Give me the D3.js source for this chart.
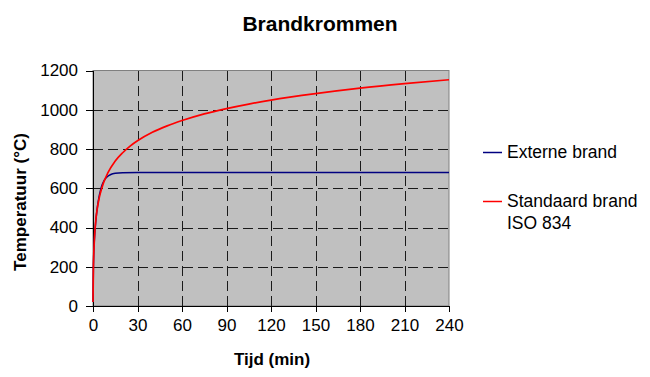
<!DOCTYPE html>
<html>
<head>
<meta charset="utf-8">
<script src="https://cdn.jsdelivr.net/npm/d3@7"></script>
<style>
  html, body { margin: 0; padding: 0; background: #fff; }
  svg { display: block; }
  text { font-family: Arial, "Liberation Sans", sans-serif; fill: #000; }
</style>
</head>
<body>
<svg id="chart" width="650" height="377"></svg>
<script>
// ---- data ----
const title = "Brandkrommen";
const xLabel = "Tijd (min)";
const yLabel = "Temperatuur (°C)";
const xTicks = [0, 30, 60, 90, 120, 150, 180, 210, 240];
const yTicks = [0, 200, 400, 600, 800, 1000, 1200];

const seriesNames = ["Externe brand", "Standaard brand ISO 834"];

// time (min) and temperature (°C) for "Externe brand"
const externTime = [0, 0.25, 0.5, 1, 2, 3, 4, 5, 6, 7, 8, 10, 12, 15, 20, 30, 60, 120, 180, 240];
const externTemp = [20, 182, 263, 346, 441, 506, 554, 588, 614, 632, 645, 661, 670, 676, 679, 680, 680, 680, 680, 680];

// time (min) and temperature (°C) for "Standaard brand ISO 834"
const isoTime = [0, 0.25, 0.5, 1, 2, 3, 4, 5, 7, 10, 15, 20, 25, 30, 40, 50, 60, 75, 90, 105, 120, 150, 180, 210, 240];
const isoTemp = [20, 185, 261, 349, 445, 502, 544, 576, 626, 678, 739, 781, 815, 842, 885, 918, 945, 979, 1006, 1029, 1049, 1082, 1110, 1133, 1153];

// ---- drawing ----
const svg = d3.select("#chart");
const pLeft = 93, pRight = 449, pTop = 70.5, pBottom = 306;

const x = d3.scaleLinear().domain([0, 240]).range([pLeft, pRight]);
const y = d3.scaleLinear().domain([0, 1200]).range([pBottom, pTop]);

// plot background
svg.append("rect")
  .attr("x", pLeft).attr("y", pTop)
  .attr("width", pRight - pLeft).attr("height", pBottom - pTop)
  .attr("fill", "#c0c0c0")
  .attr("stroke", "#808080").attr("stroke-width", 1);

// grid lines
const grid = svg.append("g").attr("stroke", "#1a1a1a").attr("stroke-width", 1)
  .attr("stroke-dasharray", "10,5").attr("shape-rendering", "crispEdges");
grid.selectAll("line.h").data(yTicks.filter(d => d > 0 && d < 1200)).enter().append("line")
  .attr("x1", pLeft).attr("x2", pRight)
  .attr("y1", d => Math.round(y(d)) + 0.5).attr("y2", d => Math.round(y(d)) + 0.5);
grid.selectAll("line.v").data(xTicks.filter(d => d > 0 && d < 240)).enter().append("line")
  .attr("y1", pTop).attr("y2", pBottom)
  .attr("x1", d => Math.round(x(d)) + 0.5).attr("x2", d => Math.round(x(d)) + 0.5);

// axes
const xAxis = d3.axisBottom(x).tickValues(xTicks).tickSize(6).tickPadding(7).tickFormat(d3.format("d"));
const yAxis = d3.axisLeft(y).tickValues(yTicks).tickSize(7).tickPadding(8).tickFormat(d3.format("d"));

const gx = svg.append("g").attr("transform", `translate(0,${pBottom})`).call(xAxis);
const gy = svg.append("g").attr("transform", `translate(${pLeft},0)`).call(yAxis);
[gx, gy].forEach(g => {
  g.select(".domain").attr("stroke", "#000").attr("shape-rendering", "crispEdges");
  g.selectAll(".tick line").attr("stroke", "#000").attr("shape-rendering", "crispEdges");
  g.selectAll(".tick text").attr("font-size", 17).attr("font-family", "Arial, 'Liberation Sans', sans-serif").attr("fill", "#000");
});

// lines
const line = d3.line().x(d => x(d[0])).y(d => y(d[1])).curve(d3.curveMonotoneX);
svg.append("path")
  .datum(externTime.map((t, i) => [t, externTemp[i]]))
  .attr("d", line).attr("fill", "none").attr("stroke", "#000080").attr("stroke-width", 1.5);
svg.append("path")
  .datum(isoTime.map((t, i) => [t, isoTemp[i]]))
  .attr("d", line).attr("fill", "none").attr("stroke", "#ff0000").attr("stroke-width", 1.7);

// title
svg.append("text").attr("x", 320).attr("y", 31).attr("text-anchor", "middle")
  .attr("font-size", 21).attr("font-weight", "bold").text(title);

// axis labels
svg.append("text").attr("x", 272).attr("y", 365).attr("text-anchor", "middle")
  .attr("font-size", 17).attr("font-weight", "bold").text(xLabel);
svg.append("text").attr("transform", "translate(26,202) rotate(-90)").attr("text-anchor", "middle")
  .attr("font-size", 17).attr("font-weight", "bold").text(yLabel);

// legend
const legend = svg.append("g");
legend.append("line").attr("x1", 483).attr("x2", 502).attr("y1", 152.5).attr("y2", 152.5)
  .attr("stroke", "#000080").attr("stroke-width", 1.5);
legend.append("text").attr("x", 507).attr("y", 158).attr("font-size", 17.5).text(seriesNames[0]);
legend.append("line").attr("x1", 483).attr("x2", 502).attr("y1", 201.5).attr("y2", 201.5)
  .attr("stroke", "#ff0000").attr("stroke-width", 1.5);
const t2 = legend.append("text").attr("x", 507).attr("y", 207).attr("font-size", 17.5);
t2.append("tspan").attr("x", 507).text("Standaard brand");
t2.append("tspan").attr("x", 507).attr("dy", 22).text("ISO 834");
</script>
</body>
</html>
